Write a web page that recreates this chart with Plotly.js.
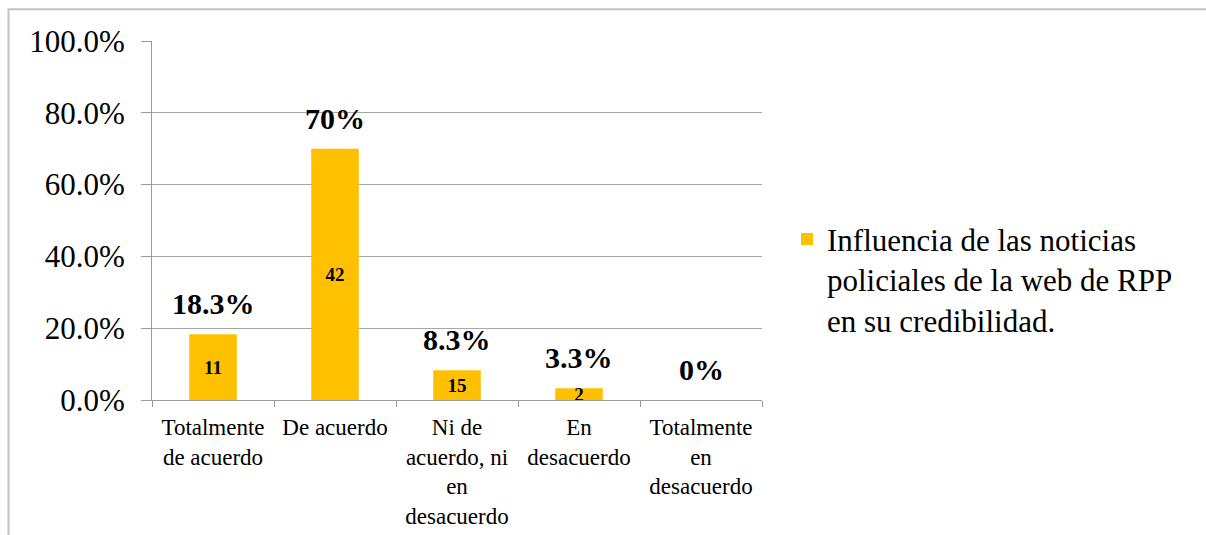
<!DOCTYPE html>
<html>
<head>
<meta charset="utf-8">
<script src="https://cdn.plot.ly/plotly-3.0.1.min.js"></script>
<style>
html,body{margin:0;padding:0;background:#fff;}
#chart{width:1206px;height:535px;}
</style>
</head>
<body>
<div id="chart"></div>
<script>
// ---- data ----
var categories = ["Totalmente de acuerdo", "De acuerdo", "Ni de acuerdo, ni en desacuerdo", "En desacuerdo", "Totalmente en desacuerdo"];
var tickLabels = ["Totalmente<br>de acuerdo", "De acuerdo", "Ni de<br>acuerdo, ni<br>en<br>desacuerdo", "En<br>desacuerdo", "Totalmente<br>en<br>desacuerdo"];
var percentages = [18.3, 70, 8.3, 3.3, 0];
var percentLabels = ["18.3%", "70%", "8.3%", "3.3%", "0%"];
var counts = ["11", "42", "15", "2", ""];
var seriesName = "Influencia de las noticias<br>policiales de la web de RPP<br>en su credibilidad.";

var serif = "'Liberation Serif', 'Times New Roman', Times, serif";

var trace = {
  type: "bar",
  x: categories,
  y: percentages,
  name: seriesName,
  marker: {color: "#FFC000"},
  text: counts,
  textposition: "inside",
  insidetextanchor: "middle",
  textangle: 0,
  constraintext: "none",
  textfont: {family: serif, size: 19, color: "#000", weight: "bold"},
  hoverinfo: "skip",
  showlegend: true
};

var annotations = categories.map(function (c, i) {
  return {
    x: c, y: percentages[i], xref: "x", yref: "y",
    text: percentLabels[i], showarrow: false,
    yanchor: "bottom", yshift: 12,
    font: {family: serif, size: 30, color: "#000", weight: "bold"}
  };
});

var layout = {
  width: 1206, height: 535,
  margin: {l: 152, r: 444, t: 41, b: 135},
  paper_bgcolor: "#fff", plot_bgcolor: "#fff",
  font: {family: serif, color: "#000"},
  bargap: 0.61,
  showlegend: true,
  legend: {
    x: 1.041, xanchor: "left", y: 0.523, yanchor: "top",
    valign: "top",
    font: {family: serif, size: 31, color: "#000"},
    bgcolor: "rgba(0,0,0,0)", borderwidth: 0
  },
  xaxis: {
    type: "category",
    tickvals: categories, ticktext: tickLabels,
    tickson: "boundaries",
    ticks: "outside", ticklen: 6, tickcolor: "#9a9a9a", tickwidth: 1,
    ticklabelstandoff: 6,
    showline: true, linecolor: "#9a9a9a", linewidth: 1,
    showgrid: false, zeroline: false,
    tickfont: {family: serif, size: 23, color: "#000"},
    tickangle: 0, automargin: false
  },
  yaxis: {
    range: [0, 100], dtick: 20, tick0: 0,
    tickformat: ".1f", ticksuffix: "%",
    ticks: "outside", ticklen: 10, tickcolor: "#9a9a9a", tickwidth: 1,
    ticklabelstandoff: 10,
    showline: true, linecolor: "#9a9a9a", linewidth: 1,
    showgrid: true, gridcolor: "#a6a6a6", gridwidth: 1,
    zeroline: false,
    tickfont: {family: serif, size: 31, color: "#000"},
    automargin: false
  },
  annotations: annotations,
  shapes: [{
    type: "rect", xref: "paper", yref: "paper",
    x0: (8.5 - 152) / 610, x1: (1230 - 152) / 610,
    y0: (400 - 9.3) / 359, y1: (400 - 560) / 359,
    line: {color: "#c4c4c4", width: 2}, fillcolor: "rgba(0,0,0,0)"
  }]
};

Plotly.newPlot("chart", [trace], layout, {displayModeBar: false, staticPlot: true});
</script>
</body>
</html>
